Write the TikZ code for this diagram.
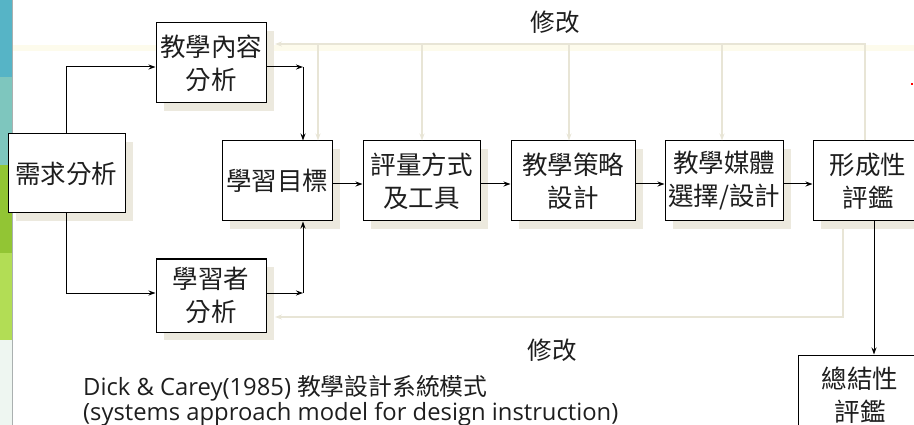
\documentclass[tikz,border=0pt]{standalone}
\usepackage{fontspec}
\setmainfont{Open Sans}
\newfontfamily\cjk{Noto Sans CJK TC}
\usetikzlibrary{arrows.meta,shadows}
\definecolor{shadowc}{RGB}{236,233,222}
\definecolor{fbc}{RGB}{232,229,214}
\definecolor{bandc}{RGB}{253,251,236}
\definecolor{stripA}{RGB}{86,180,198}
\definecolor{stripB}{RGB}{126,198,190}
\definecolor{stripC}{RGB}{146,197,52}
\definecolor{stripD}{RGB}{178,221,85}
\definecolor{stripE}{RGB}{238,246,241}
\definecolor{stripL}{RGB}{170,176,176}
\definecolor{txtc}{RGB}{30,30,30}
\tikzset{
  cbox/.style={draw=black, line width=1pt, fill=white, align=center, inner sep=0pt,
    text=txtc, font=\cjk\fontsize{25.5}{33}\selectfont,
    general shadow={fill=shadowc, shadow xshift=8pt, shadow yshift=-8pt}},
  arr/.style={draw=black, line width=1pt, -{Stealth[length=7pt,width=5pt]}},
  fb/.style={draw=fbc, line width=1.5pt, -{Stealth[length=7pt,width=5pt]}},
  lbl/.style={text=txtc, font=\cjk\fontsize{24.5}{28}\selectfont, inner sep=0pt},
  captxt/.style={text=txtc, font=\fontsize{23.8}{28}\selectfont, inner sep=0pt, anchor=base west}
}
\begin{document}
\begin{tikzpicture}[x=1pt,y=-1pt]
\useasboundingbox (0,0) rectangle (914,425);
\begin{scope}
\clip (0,0) rectangle (914,425);
% left decorative strip
\fill[stripA] (0,0) rectangle (12,77);
\fill[stripB] (0,77) rectangle (12,165);
\fill[stripC] (0,165) rectangle (12,253);
\fill[stripD] (0,253) rectangle (12,340);
\fill[stripE] (0,340) rectangle (12,425);
\draw[stripL, line width=1.2pt] (12.6,0) -- (12.6,425);
% faint band
\fill[bandc] (13,45) rectangle (914,51);
% red dot
\fill[red] (911,83) rectangle (913,85);

% boxes
\node[cbox, minimum width=117pt, minimum height=79pt] (nA) at (66.5,173.5) {需求分析};
\node[cbox, minimum width=110pt, minimum height=80pt] (nB) at (211,63) {教學內容\\分析};
\node[cbox, minimum width=110pt, minimum height=73pt] (nC) at (211,295.5) {學習者\\分析};
\node[cbox, minimum width=110pt, minimum height=80pt] (nD) at (277,181) {學習目標};
\node[cbox, minimum width=117pt, minimum height=80pt] (nE) at (421.5,181) {評量方式\\及工具};
\node[cbox, minimum width=124pt, minimum height=80pt] (nF) at (573,181) {教學策略\\設計};
\node[cbox, minimum width=118pt, minimum height=80pt] (nG) at (724,181) {教學媒體\\選擇/設計};
\node[cbox, minimum width=110pt, minimum height=80pt] (nH) at (868,181) {形成性\\評鑑};
\node[cbox, minimum width=124pt, minimum height=80pt] (nI) at (860,395) {總結性\\評鑑};

% coordinates
\coordinate (j1) at (303,67);
\coordinate (j2) at (303,293);
\coordinate (k) at (874,0);
\coordinate (t0) at (865,44);
\coordinate (tEnd) at (275,44);
\coordinate (d1) at (318,44);
\coordinate (d2) at (422,44);
\coordinate (d3) at (569,44);
\coordinate (d4) at (722,44);
\coordinate (b0) at (843,229);
\coordinate (b1) at (843,317);
\coordinate (bEnd) at (275,317);

% feedback (light)
\draw[fb] (nH.north -| t0) -- (t0) -- (tEnd);
\draw[fb] (d1) -- (d1 |- nD.north);
\draw[fb] (d2) -- (d2 |- nE.north);
\draw[fb] (d3) -- (d3 |- nF.north);
\draw[fb] (d4) -- (d4 |- nG.north);
\draw[fb] (b0) -- (b1) -- (bEnd);

% main arrows
\draw[arr] (nA.north) |- (nB.west |- j1);
\draw[arr] (nA.south) |- (nC.west |- j2);
\draw[arr] (nB.east |- j1) -- (j1);
\draw[arr] (j1) -- (j1 |- nD.north);
\draw[arr] (nC.east |- j2) -- (j2);
\draw[arr] (j2) -- (j2 |- nD.south);
\draw[arr] ([yshift=-3pt]nD.east) -- ([yshift=-3pt]nE.west);
\draw[arr] ([yshift=-3pt]nE.east) -- ([yshift=-3pt]nF.west);
\draw[arr] ([yshift=-3pt]nF.east) -- ([yshift=-3pt]nG.west);
\draw[arr] ([yshift=-3pt]nG.east) -- ([yshift=-3pt]nH.west);
\draw[arr] (nH.south -| k) -- (nI.north -| k);

% labels
\node[lbl] (m1) at (555,22) {修改};
\node[lbl] (m2) at (552,350) {修改};
\node[captxt] (c1) at (83,395) {Dick \& Carey(1985) {\cjk 教學設計系統模式}};
\node[captxt] (c2) at (83,420) {(systems approach model for design instruction)};
\end{scope}
\end{tikzpicture}
\end{document}
